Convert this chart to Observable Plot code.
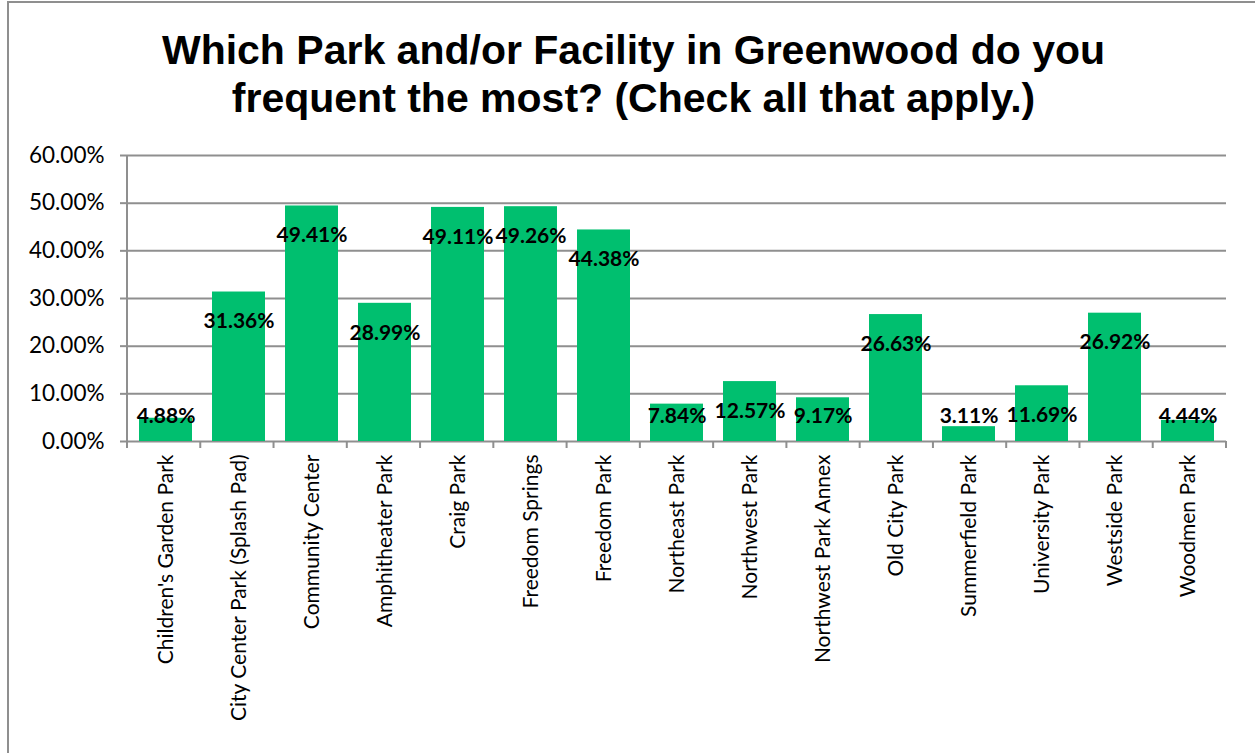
<!DOCTYPE html>
<html><head><meta charset="utf-8">
<script src="https://cdn.jsdelivr.net/npm/d3@7"></script>
<script src="https://cdn.jsdelivr.net/npm/@observablehq/plot@0.6"></script>
<style>
body{margin:0;background:#fff;overflow:hidden;width:1255px;height:753px;position:relative;}
#frame{position:absolute;left:7px;top:1px;width:1300px;height:800px;border:2px solid #8f8f8f;box-sizing:border-box;}
#title{position:absolute;left:6px;top:26px;width:1255px;text-align:center;font:bold 41px "Liberation Sans",Arial,sans-serif;line-height:48px;color:#000;}
#chart{position:absolute;left:0;top:130px;}
</style></head><body>
<div id="frame"></div>
<div id="title">Which Park and/or Facility in Greenwood do you<br>frequent the most? (Check all that apply.)</div>
<div id="chart"></div>
<script>
const categories = ["Children's Garden Park","City Center Park (Splash Pad)","Community Center","Amphitheater Park","Craig Park","Freedom Springs","Freedom Park","Northeast Park","Northwest Park","Northwest Park Annex","Old City Park","Summerfield Park","University Park","Westside Park","Woodmen Park"];
const values = [4.88,31.36,49.41,28.99,49.11,49.26,44.38,7.84,12.57,9.17,26.63,3.11,11.69,26.92,4.44];
const yTicks = [0,10,20,30,40,50,60];

const data = categories.map((name,i)=>({name, v: values[i]}));
const GRAY = "#8f8f8f";

const axesMark = (index, scales, vals, dims) => {
  const g = d3.create("svg:g").attr("stroke", GRAY).attr("stroke-width", 2);
  const x0 = dims.marginLeft, x1 = dims.width - dims.marginRight;
  const yb = scales.y(0), yt = scales.y(60);
  g.append("line").attr("x1", x0).attr("x2", x0).attr("y1", yt).attr("y2", yb);
  const n = categories.length;
  for (let i = 0; i <= n; i++) {
    const x = x0 + i * (x1 - x0) / n;
    g.append("line").attr("x1", x).attr("x2", x).attr("y1", yb).attr("y2", yb + 7);
  }
  return g.node();
};

const chart = Plot.plot({
  width: 1255, height: 623,
  marginLeft: 127, marginRight: 29, marginTop: 25, marginBottom: 312,
  style: {fontFamily: "Lato, sans-serif", color: "#000", background: "transparent", overflow: "visible"},
  x: {domain: categories, paddingInner: 0.27, paddingOuter: 0.135, label: null},
  y: {domain: [0, 60], label: null},
  marks: [
    Plot.gridY(yTicks, {stroke: GRAY, strokeOpacity: 1, strokeWidth: 2}),
    Plot.axisY(yTicks, {tickSize: 7, tickPadding: 16, stroke: GRAY, strokeWidth: 2, fontSize: 22.5, tickFormat: d => d.toFixed(2) + "%", label: null}),
    Plot.barY(data, {x: "name", y: "v", fill: "#00bf6f"}),
    axesMark,
    Plot.axisX({tickRotate: -90, tickSize: 0, tickPadding: 13, fontSize: 21, label: null}),
    Plot.text(data, {x: "name", y: d => Math.max(d.v - 6.2, 5.2), text: d => d.v.toFixed(2) + "%", fontWeight: "bold", fontSize: 21, fill: "#000"})
  ]
});
document.getElementById("chart").appendChild(chart);
</script>
</body></html>
